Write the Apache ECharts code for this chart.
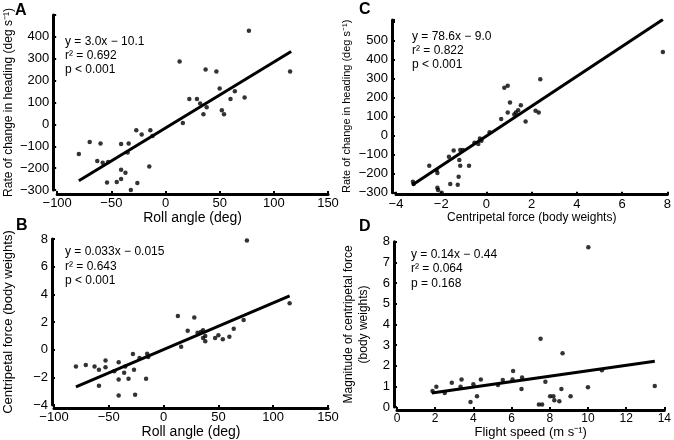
<!DOCTYPE html>
<html>
<head>
<meta charset="utf-8">
<script src="https://cdn.jsdelivr.net/npm/echarts@6/dist/echarts.min.js"></script>
<style>
html, body { margin: 0; padding: 0; background: #fff; }
#chart { width: 674px; height: 440px; }
</style>
</head>
<body>
<div id="chart"></div>
<script>
// A: roll angle (deg) vs rate of change in heading (deg s-1)
const pointsA = [
	[77, 428], [13, 288], [37, 251], [47, 242], [115, 242], [50, 164], [64, 152],
	[22, 116], [29, 116], [32, 96], [60, 116], [73, 123], [38, 78], [52, 65],
	[35, 46], [54, 46], [16, 6], [-27, -27], [-14, -27], [-22, -46], [-12, -53],
	[-70, -81], [-60, -87], [-41, -90], [-34, -87], [-80, -135], [-35, -129],
	[-63, -167], [-58, -175], [-53, -172], [-15, -193], [-41, -207], [-37, -221],
	[-54, -266], [-45, -263], [-41, -250], [-26, -268], [-32, -300], [-32, -312]
]
const fitA = [[-80, -258], [116, 333]]

// B: roll angle (deg) vs centripetal force (body weights)
const pointsB = [
	[76, 7.9], [115, 3.35], [13, 2.43], [28, 2.33], [73, 2.15], [22, 1.38], [31, 1.22],
	[34, 1.29], [36, 1.4], [64, 1.52], [36, 0.85], [38, 0.99], [38, 0.62], [47, 0.85],
	[50, 1.04], [54, 0.76], [60, 0.94], [16, 0.22], [-28, -0.31], [-15, -0.29],
	[-14, -0.52], [-22, -0.59], [-53, -0.77], [-41, -0.91], [-80, -1.21], [-71, -1.1],
	[-63, -1.21], [-59, -1.44], [-53, -1.27], [-35, -1.21], [-45, -1.56], [-36, -1.67],
	[-27, -1.44], [-59, -2.61], [-41, -2.15], [-32, -2.1], [-16, -2.1], [-41, -3.3], [-26, -3.26]
]
const fitB = [[-80, -2.68], [115, 3.89]]

// C: centripetal force (body weights) vs rate of change in heading
const pointsC = [
	[7.8, 442], [2.38, 298], [0.79, 253], [0.94, 263], [1.04, 175], [1.52, 161], [0.94, 123],
	[1.3, 123], [1.4, 135], [1.23, 112], [2.17, 132], [2.31, 123], [0.65, 89], [1.73, 75],
	[0.14, 18], [-0.29, -14], [-0.22, -26], [-0.53, -37], [-0.36, -44], [-1.45, -77],
	[-1.16, -75], [-1.04, -75], [-1.66, -110], [-1.2, -128], [-1.16, -158], [-0.77, -158],
	[-2.53, -158], [-2.2, -181], [-2.17, -196], [-3.25, -242], [-3.22, -254], [-1.23, -216],
	[-1.6, -254], [-1.27, -258], [-2.17, -274], [-2.14, -286], [-1.98, -300]
]
const fitC = [[-3.28, -260], [7.8, 612]]

// D: flight speed (m s-1) vs magnitude of centripetal force
const pointsD = [
	[10.02, 7.73], [7.52, 3.31], [8.67, 2.6], [6.08, 1.75], [10.73, 1.78], [13.5, 1.02],
	[1.86, 0.78], [2.06, 0.99], [2.5, 0.68], [2.87, 1.18], [3.38, 1.34], [3.33, 0.99],
	[4.0, 1.1], [4.39, 1.34], [3.85, 0.25], [4.19, 0.52], [5.29, 1.07], [5.54, 1.31],
	[6.05, 1.34], [6.55, 1.43], [6.52, 0.87], [7.77, 1.23], [7.43, 0.13], [7.6, 0.13],
	[8.02, 0.52], [8.19, 0.52], [8.24, 0.33], [8.5, 0.28], [8.61, 0.88], [9.09, 0.52], [10.0, 0.96]
]
const fitD = [[1.82, 0.68], [13.5, 2.22]]

const statsA = ["y = 3.0x \u2212 10.1", "r\u00b2 = 0.692", "p < 0.001"]
const statsB = ["y = 0.033x \u2212 0.015", "r\u00b2 = 0.643", "p < 0.001"]
const statsC = ["y = 78.6x \u2212 9.0", "r\u00b2 = 0.822", "p < 0.001"]
const statsD = ["y = 0.14x \u2212 0.44", "r\u00b2 = 0.064", "p = 0.168"]

const FONT = '"Liberation Sans", Arial, sans-serif'
const minus = (v) => String(v).replace("-", "\u2212")

const chart = echarts.init(document.getElementById("chart"))

const axisBase = (fontSize) => ({
	axisLine: { show: true, onZero: false, lineStyle: { color: "#000", width: 3 } },
	axisTick: { show: true, inside: true, length: 3, lineStyle: { color: "#000", width: 2 } },
	splitLine: { show: false },
	axisLabel: { color: "#000", fontSize: fontSize, fontFamily: FONT, formatter: minus },
	nameLocation: "middle",
	nameTextStyle: { color: "#000", fontFamily: FONT }
})

const xAxis = (grid, min, max, interval, name, nameSize, nameGap, offset, fontSize) => {
	const a = axisBase(fontSize)
	a.gridIndex = grid
	a.type = "value"
	a.min = min
	a.max = max
	a.interval = interval
	a.offset = offset
	a.name = name
	a.nameGap = nameGap
	a.nameTextStyle.fontSize = nameSize
	a.axisLabel.margin = 3
	return a
}

const yAxis = (grid, min, max, interval, name, nameSize, nameGap, offset, fontSize, hideAbove) => {
	const a = axisBase(fontSize)
	a.gridIndex = grid
	a.type = "value"
	a.min = min
	a.max = max
	a.interval = interval
	a.offset = offset
	a.name = name
	a.nameGap = nameGap
	a.nameTextStyle.fontSize = nameSize
	a.nameTextStyle.lineHeight = 15
	a.axisLabel.margin = 4
	a.axisLabel.formatter = (v) => (v > hideAbove ? "" : minus(v))
	return a
}

const scatter = (i, data) => ({
	type: "scatter",
	xAxisIndex: i,
	yAxisIndex: i,
	data: data,
	symbol: "circle",
	symbolSize: 4.5,
	itemStyle: { color: "#000" },
	silent: true
})

const fit = (i, data) => ({
	type: "line",
	xAxisIndex: i,
	yAxisIndex: i,
	data: data,
	showSymbol: false,
	lineStyle: { color: "#000", width: 3 },
	silent: true
})

const stats = (x, y, lines, lh) => ({
	type: "text",
	x: x,
	y: y,
	style: { text: lines.join("\n"), font: "12px " + FONT, fill: "#000", lineHeight: lh, verticalAlign: "top" }
})

const letter = (x, y, t) => ({
	type: "text",
	x: x,
	y: y,
	style: { text: t, font: "bold 16px " + FONT, fill: "#000", verticalAlign: "middle" }
})

const option = {
	backgroundColor: "#fff",
	animation: false,
	grid: [
		{ left: 51, top: 15, width: 277, height: 175 },
		{ left: 51, top: 239, width: 277, height: 172.5 },
		{ left: 396, top: 20, width: 276, height: 172.7 },
		{ left: 397, top: 241.7, width: 276, height: 169.3 }
	],
	xAxis: [
		xAxis(0, -100, 150, 50, "Roll angle (deg)", 14, 10, 4, 13),
		xAxis(1, -100, 150, 50, "Roll angle (deg)", 14, 13, 3, 13),
		xAxis(2, -4, 8, 2, "Centripetal force (body weights)", 12, 8, 2, 13),
		xAxis(3, 0, 14, 2, "Flight speed (m s\u207b\u00b9)", 13, 12, 3, 12)
	],
	yAxis: [
		yAxis(0, -300, 500, 100, "Rate of change in heading (deg s\u207b\u00b9)", 12, 35, 4, 13, 400),
		yAxis(1, -4, 8, 2, "Centripetal force (body weights)", 13, 36, 2, 13, 8),
		yAxis(2, -300, 610, 100, "Rate of change in heading (deg s\u207b\u00b9)", 11, 36, 4, 13, 500),
		yAxis(3, 0, 8, 1, "Magnitude of centripetal force\n(body weights)", 12, 23, 3, 13, 8)
	],
	series: [
		scatter(0, pointsA), fit(0, fitA),
		scatter(1, pointsB), fit(1, fitB),
		scatter(2, pointsC), fit(2, fitC),
		scatter(3, pointsD), fit(3, fitD)
	],
	graphic: [
		letter(15, 11, "A"),
		letter(16, 226, "B"),
		letter(359, 10, "C"),
		letter(359, 227, "D"),
		stats(65, 35, statsA, 14),
		stats(65, 245, statsB, 14.2),
		stats(412, 29.6, statsC, 14.2),
		stats(411, 247, statsD, 14.5)
	]
}

chart.setOption(option)
</script>
</body>
</html>
